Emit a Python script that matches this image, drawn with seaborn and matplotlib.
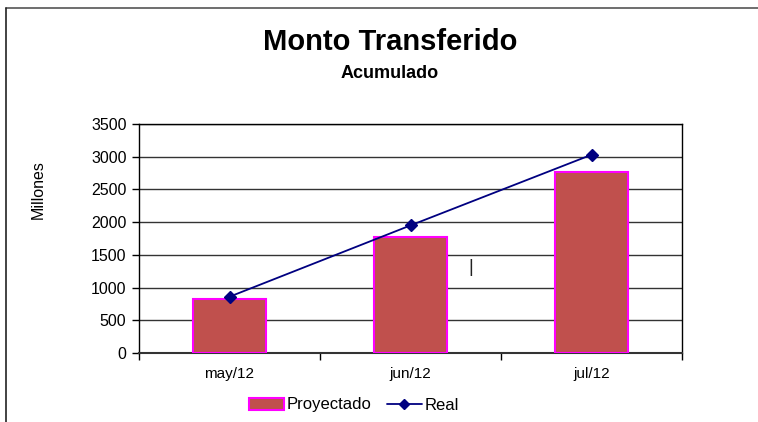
import matplotlib
matplotlib.use("Agg")
import matplotlib.pyplot as plt
from matplotlib.patches import Patch
from matplotlib.lines import Line2D
import seaborn as sns
import pandas as pd

months = ["may/12", "jun/12", "jul/12"]
proyectado = [830, 1780, 2760]
real = [860, 1950, 3030]
series_names = ["Proyectado", "Real"]
yticks = [0, 500, 1000, 1500, 2000, 2500, 3000, 3500]

sns.set_theme(style="white")
plt.rcParams["font.family"] = ["Liberation Sans", "DejaVu Sans"]
plt.rcParams["text.color"] = "black"
plt.rcParams["axes.labelcolor"] = "black"
plt.rcParams["xtick.color"] = "black"
plt.rcParams["ytick.color"] = "black"

df = pd.DataFrame({"mes": months, "Proyectado": proyectado, "Real": real})

fig = plt.figure(figsize=(7.58, 4.22), dpi=100)
ax = fig.add_axes([139/758, 1-353/422, (682-139)/758, (353-124)/422])

bar_color = "#C0504D"
edge_color = "#FF00FF"
line_color = "#000080"

sns.barplot(data=df, x="mes", y="Proyectado", ax=ax, color=bar_color,
            edgecolor=edge_color, linewidth=1.5, width=0.40, saturation=1, zorder=3)
sns.pointplot(data=df, x="mes", y="Real", ax=ax, color=line_color, markers="D",
              linestyles="-", linewidth=1.3, markersize=6, zorder=4)

ax.set_ylim(0, 3500)
ax.set_xlim(-0.5, 2.5)
ax.set_yticks(yticks)
ax.set_yticklabels([str(v) for v in yticks], fontsize=11.5, color="black")
ax.set_xlabel("")
ax.set_ylabel("Millones", fontsize=11.5, color="black")
ax.yaxis.set_label_coords((46-139)/543, (353-190)/229)
ax.tick_params(axis="x", labelsize=11, colors="black", length=0, pad=10)
ax.tick_params(axis="y", left=True, length=5, width=1, color="black", pad=4)
# x ticks between categories
ax.set_xticks([-0.5, 0.5, 1.5, 2.5], minor=True)
ax.tick_params(axis="x", which="minor", bottom=True, length=5, width=1, color="black")

ax.grid(axis="y", color="#333333", linewidth=1, zorder=0)
ax.set_axisbelow(True)
for s in ax.spines.values():
    s.set_visible(True)
    s.set_color("black")
    s.set_linewidth(1)
ax.spines["bottom"].set_color("#333333")
ax.spines["bottom"].set_linewidth(1.5)

fig.text(390/758, 1-42/422, "Monto Transferido", ha="center", va="center",
         fontsize=21, fontweight="bold", color="black")
fig.text(390/758, 1-73/422, "Acumulado", ha="center", va="center",
         fontsize=13, fontweight="bold", color="black")

handles = [Patch(facecolor=bar_color, edgecolor=edge_color, linewidth=1.5),
           Line2D([], [], color=line_color, marker="D", markersize=5, linewidth=1.3)]
fig.legend(handles, series_names, loc="center", bbox_to_anchor=(354/758, 1-405/422),
           ncol=2, frameon=False, fontsize=12, handlelength=2.1, handleheight=0.7,
           columnspacing=0.9, handletextpad=0.15, labelcolor="black")

# outer chart frame
fig.add_artist(Line2D([6/758, 1], [1-8/422, 1-8/422], transform=fig.transFigure,
                      color="#555555", linewidth=1.2))
fig.add_artist(Line2D([6/758, 6/758], [0, 1-8/422], transform=fig.transFigure,
                      color="#222222", linewidth=1.2))
fig.text(471/758, 1-268/422, "|", ha="center", va="center", fontsize=13, color="#222222")

fig.savefig("out.png", dpi=100)
